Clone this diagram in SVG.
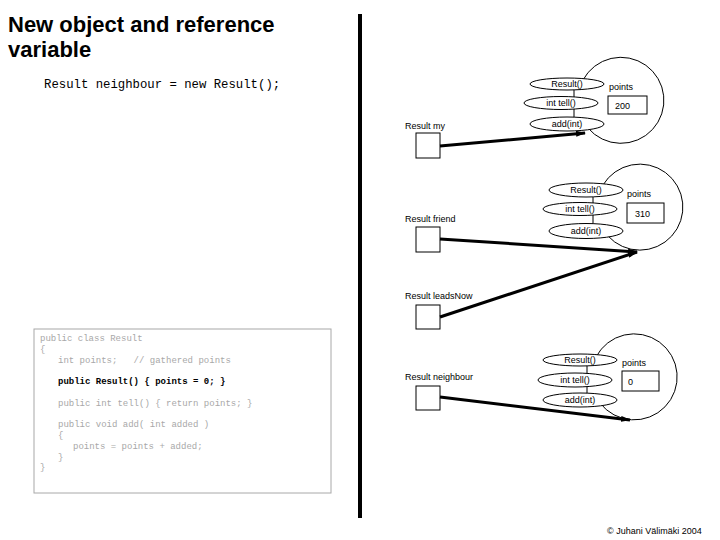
<svg xmlns="http://www.w3.org/2000/svg" width="720" height="540" viewBox="0 0 720 540">
<style>
.t{font-family:"Liberation Sans",Arial,sans-serif;font-size:9px;fill:#000}
.c{text-anchor:middle}
.ell{fill:#fff;stroke:#000;stroke-width:1}
.obj{fill:none;stroke:#000;stroke-width:1}
.box{fill:#fff;stroke:#000;stroke-width:1}
.lnk{stroke:#000;stroke-width:1}
.ref{stroke:#000;stroke-width:3;fill:none;marker-end:url(#ah)}
.code{font-family:"Liberation Mono","DejaVu Sans Mono",monospace;font-size:9px;fill:#a8a8a8;white-space:pre}
</style>
<defs>
<marker id="ah" viewBox="0 0 10 6" refX="9" refY="3" markerWidth="10" markerHeight="6" markerUnits="userSpaceOnUse" orient="auto">
<path d="M0,0 L10,3 L0,6 z" fill="#000"/>
</marker>
</defs>
<rect width="720" height="540" fill="#fff"/>

<g id="title">
<text x="8" y="32" style="font-family:'Liberation Sans',Arial,sans-serif;font-size:22px;font-weight:bold">New object and reference</text>
<text x="8" y="57" style="font-family:'Liberation Sans',Arial,sans-serif;font-size:22px;font-weight:bold">variable</text>
<text x="44" y="88" style="font-family:'Liberation Mono',monospace;font-size:12.3px;white-space:pre">Result neighbour = new Result();</text>
</g>

<rect id="divider" x="358" y="14" width="4" height="504" fill="#000"/>

<g id="obj1">
<path class="obj" d="M583,80 A43,43 0 1 1 588,128"/>
<line class="lnk" x1="574" y1="88" x2="574" y2="98"/>
<line class="lnk" x1="574" y1="108" x2="574" y2="118"/>
<ellipse class="ell" cx="567" cy="84" rx="37" ry="6"/>
<ellipse class="ell" cx="561" cy="103" rx="37" ry="6.5"/>
<ellipse class="ell" cx="567" cy="124" rx="37" ry="7"/>
<text class="t c" x="567" y="87">Result()</text>
<text class="t c" x="561" y="106">int tell()</text>
<text class="t c" x="567" y="127">add(int)</text>
<text class="t" x="609" y="90">points</text>
<rect class="box" x="608" y="96" width="39" height="18"/>
<text class="t" x="615" y="109">200</text>
</g>

<g id="obj2">
<path class="obj" d="M603,185 A43,43 0 1 1 608,236"/>
<line class="lnk" x1="593" y1="196" x2="593" y2="204"/>
<line class="lnk" x1="593" y1="215" x2="593" y2="225"/>
<ellipse class="ell" cx="586" cy="190" rx="37" ry="7"/>
<ellipse class="ell" cx="580" cy="209" rx="37" ry="6.5"/>
<ellipse class="ell" cx="586" cy="231" rx="37" ry="7.5"/>
<text class="t c" x="586" y="193">Result()</text>
<text class="t c" x="580" y="212">int tell()</text>
<text class="t c" x="586" y="234">add(int)</text>
<text class="t" x="627" y="197">points</text>
<rect class="box" x="627" y="203" width="37" height="20"/>
<text class="t" x="635" y="217">310</text>
</g>

<g id="obj3">
<path class="obj" d="M596,357 A43,43 0 1 1 600,403"/>
<line class="lnk" x1="587" y1="365" x2="587" y2="374"/>
<line class="lnk" x1="587" y1="386" x2="587" y2="394"/>
<ellipse class="ell" cx="580" cy="360" rx="37" ry="6"/>
<ellipse class="ell" cx="575" cy="380" rx="37" ry="7"/>
<ellipse class="ell" cx="580" cy="400" rx="37" ry="7"/>
<text class="t c" x="580" y="363">Result()</text>
<text class="t c" x="575" y="383">int tell()</text>
<text class="t c" x="580" y="403">add(int)</text>
<text class="t" x="622" y="366">points</text>
<rect class="box" x="622" y="371" width="37" height="20"/>
<text class="t" x="628" y="385">0</text>
</g>

<g id="var-my">
<text class="t" x="405" y="129">Result my</text>
<rect class="box" x="416" y="133" width="24" height="25"/>
</g>
<g id="var-friend">
<text class="t" x="405" y="222">Result friend</text>
<rect class="box" x="416" y="227" width="24" height="25"/>
</g>
<g id="var-leadsNow">
<text class="t" x="405" y="299">Result leadsNow</text>
<rect class="box" x="416" y="305" width="24" height="24"/>
</g>
<g id="var-neighbour">
<text class="t" x="405" y="380">Result neighbour</text>
<rect class="box" x="416" y="386" width="24" height="24"/>
</g>

<g id="connectors">
<line class="ref" x1="440" y1="146" x2="585" y2="133"/>
<line class="ref" x1="440" y1="239" x2="637" y2="252"/>
<line class="ref" x1="440" y1="317" x2="637" y2="252"/>
<line class="ref" x1="440" y1="397" x2="630" y2="420"/>
</g>

<g id="code">
<rect x="34" y="329" width="297" height="164" fill="#fff" stroke="#a8a8a8" stroke-width="1"/>
<text class="code" x="40" y="341">public class Result</text>
<text class="code" x="40" y="352">{</text>
<text class="code" x="58" y="363">int points;   // gathered points</text>
<text class="code" x="58" y="384" style="fill:#000;font-weight:bold">public Result() { points = 0; }</text>
<text class="code" x="58" y="406">public int tell() { return points; }</text>
<text class="code" x="58" y="427">public void add( int added )</text>
<text class="code" x="58" y="438">{</text>
<text class="code" x="73" y="449">points = points + added;</text>
<text class="code" x="58" y="460">}</text>
<text class="code" x="40" y="470">}</text>
</g>

<text class="t" x="607" y="534">© Juhani Välimäki 2004</text>
</svg>
